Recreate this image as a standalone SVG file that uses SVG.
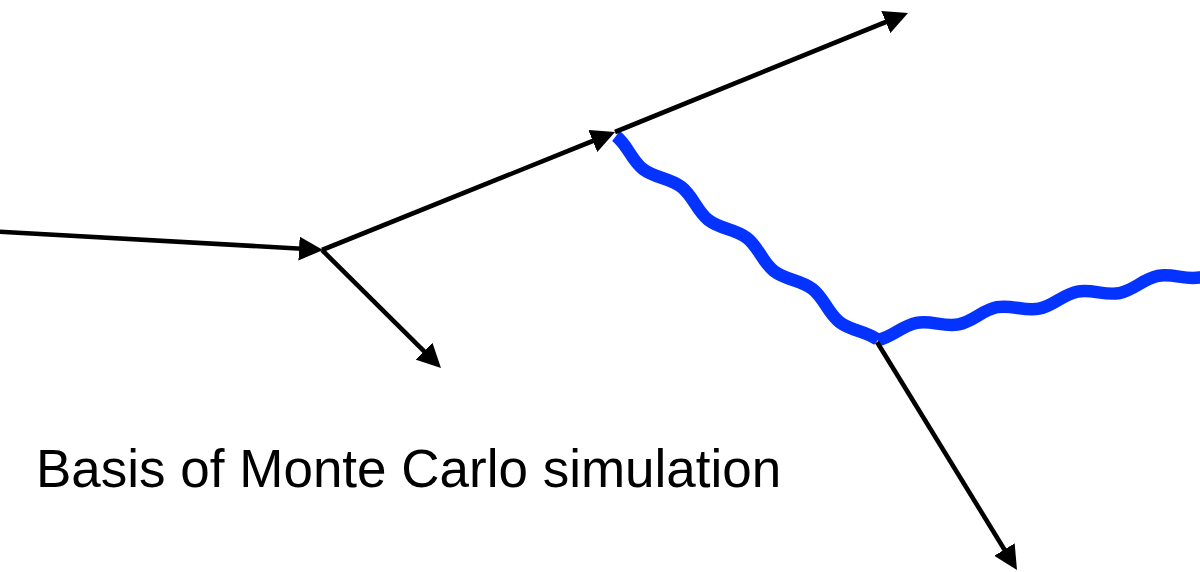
<svg xmlns="http://www.w3.org/2000/svg" width="1200" height="572" viewBox="0 0 1200 572">
  <style>
    .arrow { fill: none; stroke: #000; stroke-width: 4.6; marker-end: url(#head); }
    .wave { fill: none; stroke: #0433FF; stroke-width: 12.5; stroke-linecap: butt; }
    .label { font-family: "Liberation Sans", Arial, sans-serif; font-size: 53px; fill: #000; }
  </style>
  <defs>
    <marker id="head" markerUnits="userSpaceOnUse" markerWidth="24" markerHeight="24" refX="16" refY="12" orient="auto" viewBox="0 0 24 24">
      <path d="M0,0 L24,12 L0,24 Z" fill="#000"/>
    </marker>
  </defs>
  <g id="waves">
    <path id="wave1" class="wave" transform="translate(616,136) rotate(37.9)" d="M0,0 C15.08,0 26.42,9.5 41.5,9.5 S67.92,0 83,0 S109.42,9.5 124.5,9.5 S150.92,0 166,0 S192.42,9.5 207.5,9.5 S233.92,0 249,0 S275.42,9.5 290.5,9.5 S316.92,0 332,0"/>
    <path id="wave2" class="wave" transform="translate(878,340) rotate(-11)" d="M0,0 C14.9,0 26.1,-9.5 41,-9.5 S67.1,0 82,0 S108.1,-9.5 123,-9.5 S149.1,0 164,0 S190.1,-9.5 205,-9.5 S231.1,0 246,0 S272.1,-9.5 287,-9.5 S313.1,0 328,0 S354.1,-9.5 369,-9.5"/>
  </g>
  <g id="connectors">
    <line class="arrow" x1="-2" y1="231.6" x2="315" y2="249.5"/>
    <line class="arrow" x1="322" y1="250" x2="607.6" y2="135"/>
    <line class="arrow" x1="615" y1="132" x2="900.6" y2="16"/>
    <line class="arrow" x1="322" y1="250" x2="435.3" y2="362.4"/>
    <line class="arrow" x1="877" y1="342" x2="1012.8" y2="563.2"/>
  </g>
  <g id="caption">
    <text class="label" x="36" y="487">Basis of Monte Carlo simulation</text>
  </g>
</svg>
